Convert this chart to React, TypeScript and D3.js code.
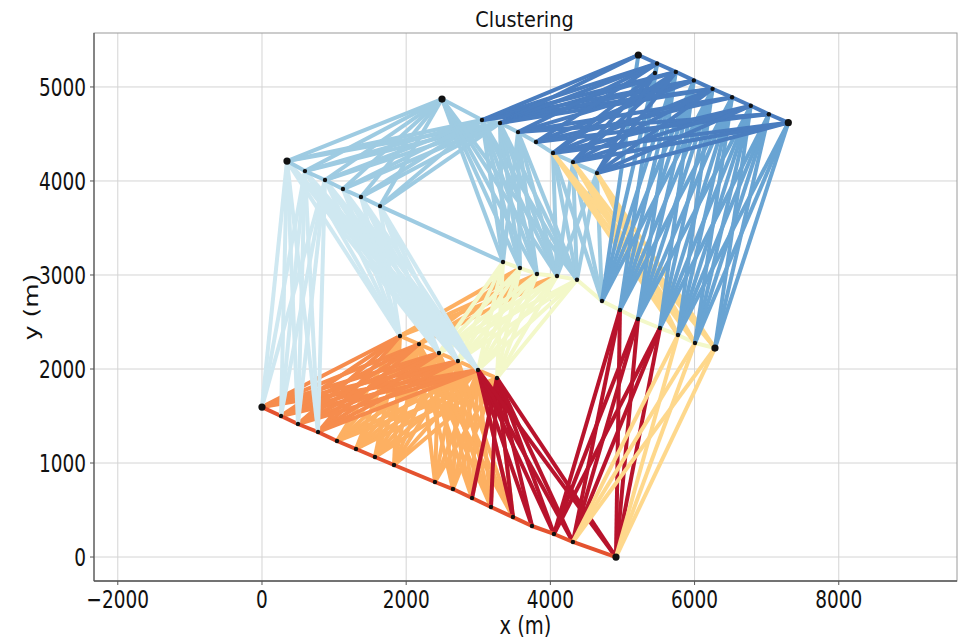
import React from 'react';
import * as d3 from 'd3';

// Turbine positions (m), one array per row of the layout
const rowA: [number, number][] = [
  [0, 1595], [264, 1500], [499, 1415], [777, 1330], [1040, 1234], [1304, 1149],
  [1567, 1064], [1831, 979], [2399, 798], [2649, 723], [2913, 628], [3176, 532],
  [3481, 425], [3745, 330], [4050, 245], [4313, 160], [4910, 0],
];
const rowB: [number, number][] = [
  [1914, 2351], [2178, 2265], [2455, 2170], [2718, 2085], [2996, 1989], [3259, 1904],
];
const rowC: [number, number][] = [
  [3343, 3138], [3578, 3074], [3814, 3011], [4092, 2990], [4369, 2950], [4716, 2723],
  [4965, 2628], [5215, 2532], [5520, 2436], [5770, 2362], [6006, 2277], [6283, 2223],
];
const rowD: [number, number][] = [
  [347, 4212], [596, 4105], [874, 4010], [1123, 3914], [1373, 3829], [1637, 3733],
];
const rowE: [number, number][] = [
  [2497, 4871], [3051, 4648], [3301, 4616], [3551, 4520], [3800, 4414], [4036, 4297],
  [4313, 4201], [4646, 4084],
];
const rowF: [number, number][] = [
  [5220, 5340], [5480, 5250], [5740, 5160], [5990, 5070], [6250, 4980], [6520, 4890],
  [6780, 4800], [7030, 4710], [7300, 4620],
];
const rowG: [number, number][] = [[5450, 5148]];

const rows: Record<string, [number, number][]> = {
  A: rowA, B: rowB, C: rowC, D: rowD, E: rowE, F: rowF, G: rowG,
};

// Cluster links: every turbine in `from` is joined to every turbine in `to`
type Link = { cluster: string; from: [string, number[]]; to: [string, number[]] };
const links: Link[] = [
  { cluster: 'orange', from: ['B', [0, 1]], to: ['C', [1, 2, 3]] },
  { cluster: 'paleYellow', from: ['C', [0, 1, 2, 3, 4]], to: ['B', [2, 3, 4, 5]] },
  { cluster: 'orangeDeep', from: ['A', [0, 1, 2, 3]], to: ['B', [0, 1, 2, 3, 4]] },
  { cluster: 'orange', from: ['A', [4, 5, 6, 7]], to: ['B', [0, 1, 2, 3, 4, 5]] },
  { cluster: 'orange', from: ['A', [8, 9, 10, 11, 12]], to: ['B', [1, 2, 3, 4, 5]] },
  { cluster: 'darkRed', from: ['B', [5]], to: ['A', [10, 11, 12, 13, 14, 15, 16]] },
  { cluster: 'darkRed', from: ['B', [4]], to: ['A', [12, 13, 14, 15, 16]] },
  { cluster: 'darkRed', from: ['C', [6, 7, 8]], to: ['A', [14, 15, 16]] },
  { cluster: 'yellowUpper', from: ['E', [5, 6, 7]], to: ['C', [9, 10, 11]] },
  { cluster: 'yellow', from: ['A', [15, 16]], to: ['C', [9, 10, 11]] },
  { cluster: 'paleBlue', from: ['D', [0, 1, 2]], to: ['A', [0, 1, 2, 3]] },
  { cluster: 'paleBlue', from: ['D', [0, 1, 2, 3, 4, 5]], to: ['B', [0, 2, 3, 4]] },
  { cluster: 'lightBlue', from: ['D', [0, 1, 2, 3, 4, 5]], to: ['E', [0, 1, 2]] },
  { cluster: 'lightBlue', from: ['E', [0, 1, 2, 3]], to: ['C', [0, 1, 2, 3, 4]] },
  { cluster: 'lightBlue', from: ['E', [5, 6, 7]], to: ['C', [3, 4, 5]] },
  { cluster: 'lightBlue', from: ['D', [5]], to: ['C', [0]] },
  { cluster: 'midBlue', from: ['F', [0, 1, 2, 3, 4]], to: ['C', [5]] },
  { cluster: 'midBlue', from: ['F', [1, 2, 3, 4, 5]], to: ['C', [6]] },
  { cluster: 'midBlue', from: ['F', [2, 3, 4, 5, 6]], to: ['C', [7]] },
  { cluster: 'midBlue', from: ['F', [3, 4, 5, 6, 7]], to: ['C', [8]] },
  { cluster: 'midBlue', from: ['F', [4, 5, 6, 7, 8]], to: ['C', [9]] },
  { cluster: 'midBlue', from: ['F', [5, 6, 7, 8]], to: ['C', [10]] },
  { cluster: 'midBlue', from: ['F', [6, 7, 8]], to: ['C', [11]] },
  { cluster: 'blue', from: ['E', [1, 2]], to: ['F', [0, 1, 2, 3, 4]] },
  { cluster: 'blue', from: ['E', [3, 4]], to: ['F', [1, 3, 5, 7]] },
  { cluster: 'blue', from: ['E', [5, 6, 7]], to: ['F', [2, 4, 6, 8]] },
  { cluster: 'blue', from: ['G', [0]], to: ['E', [5, 6, 7]] },
];

// Links between neighbours along a row
type Chain = { cluster: string; row: string };
const chains: Chain[] = [
  { cluster: 'paleYellow', row: 'C' },
  { cluster: 'orange', row: 'B' },
  { cluster: 'redOrange', row: 'A' },
  { cluster: 'lightBlue', row: 'D' },
  { cluster: 'lightBlue', row: 'E' },
  { cluster: 'blue', row: 'F' },
];

// Draw order of the clusters (back to front)
const clusterOrder = [
  'orange', 'paleYellow', 'orangeDeep', 'darkRed', 'yellow', 'redOrange',
  'paleBlue', 'lightBlue', 'yellowUpper', 'midBlue', 'blue',
];

const clusterColors: Record<string, string> = {
  darkRed: '#b8132c',
  redOrange: '#e4522f',
  orangeDeep: '#f68c4d',
  orange: '#fdb062',
  yellow: '#fed88c',
  yellowUpper: '#fed88c',
  paleYellow: '#f3f8c9',
  paleBlue: '#cfe8f1',
  lightBlue: '#9ecbe2',
  midBlue: '#69a4d3',
  blue: '#4a7dbf',
};

const xTicks = [-2000, 0, 2000, 4000, 6000, 8000];
const yTicks = [0, 1000, 2000, 3000, 4000, 5000];
const hubs: [string, number][] = [['A', 0], ['A', 16], ['D', 0], ['E', 0], ['F', 0], ['F', 8], ['C', 11]];

const W = 959;
const H = 639;
const M = { left: 94, right: 957, top: 33, bottom: 581 };

export default function App() {
  const x = d3.scaleLinear().domain([-2330, 9640]).range([M.left, M.right]);
  const y = d3.scaleLinear().domain([-255, 5574]).range([M.bottom, M.top]);

  const segs: { key: string; cluster: string; p: [number, number]; q: [number, number] }[] = [];
  links.forEach((l, li) => {
    l.from[1].forEach((i) => {
      l.to[1].forEach((j) => {
        segs.push({ key: `l${li}-${i}-${j}`, cluster: l.cluster, p: rows[l.from[0]][i], q: rows[l.to[0]][j] });
      });
    });
  });
  chains.forEach((c, ci) => {
    const r = rows[c.row];
    for (let i = 0; i + 1 < r.length; i++) {
      segs.push({ key: `c${ci}-${i}`, cluster: c.cluster, p: r[i], q: r[i + 1] });
    }
  });
  const ordered = clusterOrder.flatMap((c) => segs.filter((s) => s.cluster === c));
  const allNodes = Object.entries(rows).flatMap(([k, r]) => r.map((p, i) => ({ key: `${k}${i}`, p })));
  const hubSet = new Set(hubs.map(([k, i]) => `${k}${i}`));

  const font = 'DejaVu Sans, sans-serif';

  return (
    <svg width={W} height={H} style={{ position: 'absolute', left: 0, top: 0, background: '#fff' }}>
      <rect x={0} y={0} width={W} height={H} fill="#fff" />
      <defs>
        <clipPath id="plot">
          <rect x={M.left} y={M.top} width={M.right - M.left} height={M.bottom - M.top} />
        </clipPath>
      </defs>
      {/* grid */}
      <g stroke="#d4d4d4" strokeWidth={1}>
        {xTicks.map((t) => (
          <line key={`gx${t}`} x1={x(t)} x2={x(t)} y1={M.top} y2={M.bottom} />
        ))}
        {yTicks.map((t) => (
          <line key={`gy${t}`} x1={M.left} x2={M.right} y1={y(t)} y2={y(t)} />
        ))}
      </g>
      {/* edges */}
      <g clipPath="url(#plot)">
        {ordered.map((s) => (
          <line
            key={s.key}
            x1={x(s.p[0])}
            y1={y(s.p[1])}
            x2={x(s.q[0])}
            y2={y(s.q[1])}
            stroke={clusterColors[s.cluster]}
            strokeWidth={4}
          />
        ))}
        {allNodes.map((n) => (
          <circle key={n.key} cx={x(n.p[0])} cy={y(n.p[1])} r={hubSet.has(n.key) ? 3.6 : 2.2} fill="#111" />
        ))}
      </g>
      {/* frame */}
      <rect x={M.left} y={M.top} width={M.right - M.left} height={M.bottom - M.top} fill="none" stroke="#9a9a9a" strokeWidth={1} />
      <line x1={M.left} x2={M.right} y1={M.bottom} y2={M.bottom} stroke="#555" strokeWidth={1.6} />
      <line x1={M.left} x2={M.left} y1={M.top} y2={M.bottom} stroke="#555" strokeWidth={1.2} />
      {/* ticks */}
      <g stroke="#555" strokeWidth={1}>
        {xTicks.map((t) => (
          <line key={`tx${t}`} x1={x(t)} x2={x(t)} y1={M.bottom} y2={M.bottom + 4} />
        ))}
        {yTicks.map((t) => (
          <line key={`ty${t}`} x1={M.left - 4} x2={M.left} y1={y(t)} y2={y(t)} />
        ))}
      </g>
      <g fontFamily={font} fontSize={25} fill="#111">
        {xTicks.map((t) => (
          <text key={`lx${t}`} transform={`translate(${x(t)},${M.bottom + 27}) scale(0.74,1)`} textAnchor="middle">
            {t < 0 ? `\u2212${Math.abs(t)}` : `${t}`}
          </text>
        ))}
        {yTicks.map((t) => (
          <text key={`ly${t}`} transform={`translate(${M.left - 8},${y(t) + 9}) scale(0.74,1)`} textAnchor="end">
            {`${t}`}
          </text>
        ))}
        <text transform={`translate(${(M.left + M.right) / 2},${H - 5}) scale(0.78,1)`} textAnchor="middle">
          x (m)
        </text>
        <text transform={`translate(38,${(M.top + M.bottom) / 2}) rotate(-90) scale(1,0.78)`} textAnchor="middle">
          y (m)
        </text>
      </g>
      <text
        transform={`translate(${(M.left + M.right) / 2 - 1},27) scale(0.92,1)`}
        textAnchor="middle"
        fontFamily={font}
        fontSize={21}
        fill="#111"
      >
        Clustering
      </text>
    </svg>
  );
}
